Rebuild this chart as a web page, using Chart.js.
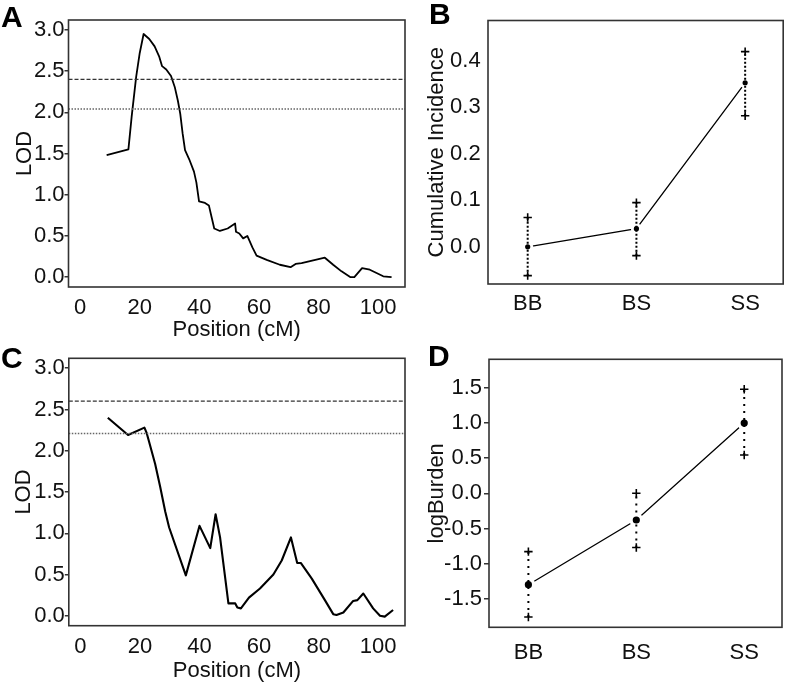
<!DOCTYPE html>
<html><head><meta charset="utf-8">
<script src="https://cdn.jsdelivr.net/npm/chart.js@4.4.1/dist/chart.umd.min.js"></script>
<style>
html,body{margin:0;padding:0;background:#fff;}
body{width:789px;height:682px;position:relative;overflow:hidden;}
canvas{position:absolute;}
.lbl{position:absolute;font:bold 30px 'Liberation Sans',Arial,sans-serif;line-height:30px;color:#000;}
</style></head><body>
<canvas id="cA" width="410" height="345" style="left:0;top:0"></canvas>
<canvas id="cB" width="389" height="340" style="left:400px;top:0"></canvas>
<canvas id="cC" width="410" height="342" style="left:0;top:340px"></canvas>
<canvas id="cD" width="389" height="342" style="left:400px;top:340px"></canvas>
<div class="lbl" style="left:1px;top:2px">A</div>
<div class="lbl" style="left:429px;top:-1px">B</div>
<div class="lbl" style="left:1px;top:343px">C</div>
<div class="lbl" style="left:428px;top:341px">D</div>
<script>
// ---- data ----
const posA = [8.9,16.2,17.3,18.8,20.0,21.3,23.2,25.0,26.5,27.5,28.9,30.5,31.8,32.8,33.6,34.4,35.2,36.6,38.2,39.0,39.9,41.9,43.2,44.1,45.0,46.9,49.5,52.0,52.3,53.4,54.7,56.1,57.8,59.2,62.6,67.0,70.6,72.3,74.3,82.1,84.9,87.7,90.6,92.0,94.6,97.2,101.7,104.5];
const lodA = [1.48,1.55,1.95,2.43,2.72,2.95,2.89,2.80,2.68,2.56,2.52,2.44,2.30,2.14,1.98,1.74,1.54,1.43,1.28,1.15,0.92,0.90,0.87,0.73,0.59,0.56,0.59,0.65,0.55,0.53,0.47,0.50,0.36,0.26,0.21,0.15,0.12,0.16,0.17,0.235,0.15,0.07,0.0,0.0,0.11,0.09,0.01,0.0];
const thrA = [2.40, 2.04];
const posC = [9.2,16.0,21.5,22.2,22.9,25.1,26.8,28.5,29.8,35.4,40.0,43.6,45.4,46.9,49.7,52.0,52.7,53.9,56.6,60.3,64.8,67.6,70.7,72.8,74.0,77.7,82.1,84.9,86.0,88.3,91.6,93.0,95.0,98.3,100.6,102.2,105.0];
const lodC = [2.40,2.19,2.28,2.22,2.13,1.84,1.56,1.26,1.07,0.49,1.09,0.82,1.23,0.95,0.15,0.15,0.10,0.09,0.22,0.33,0.50,0.67,0.95,0.64,0.64,0.45,0.19,0.02,0.01,0.04,0.18,0.19,0.27,0.09,0.0,-0.01,0.07];
const thrC = [2.60, 2.21];
const genotypes = ['BB','BS','SS'];
const ciMean = [0.0, 0.039, 0.353];
const ciLow  = [-0.062, -0.019, 0.282];
const ciHigh = [0.063, 0.095, 0.420];
const burdenMean = [-1.30, -0.38, 1.00];
const burdenLow  = [-1.76, -0.77, 0.545];
const burdenHigh = [-0.83, 0.0, 1.48];
const posTicks = [0,20,40,60,80,100];
const lodTicks = [0,0.5,1,1.5,2,2.5,3];
const ciTicks = [0,0.1,0.2,0.3,0.4];
const burdenTicks = [-1.5,-1,-0.5,0,0.5,1,1.5];
const posRange = [-3.9, 109.0];
const lodRange = [-0.12, 3.12];
const catRange = [0.635, 3.35];
const ciRange = [-0.080, 0.487];
const burdenRange = [-1.906, 1.906];

const FONT = "'Liberation Sans', Arial, Helvetica, sans-serif";
Chart.defaults.font.family = FONT;
Chart.defaults.color = '#111';

const framePlugin = {id:'frame', afterDraw(chart){
  const {ctx, chartArea:a} = chart;
  ctx.save(); ctx.strokeStyle='#333'; ctx.lineWidth=1.6;
  ctx.strokeRect(a.left, a.top, a.right-a.left, a.bottom-a.top);
  ctx.restore();
}};

function lodChart(id, pos, lod, thr, g){
  const pts = pos.map((x,i)=>({x, y:lod[i]}));
  new Chart(document.getElementById(id), {
    type:'scatter',
    data:{datasets:[
      {data:[{x:posRange[0],y:thr[0]},{x:posRange[1],y:thr[0]}], showLine:true, pointRadius:0, borderColor:'#333', borderWidth:1.2, borderDash:[4,2]},
      {data:[{x:posRange[0],y:thr[1]},{x:posRange[1],y:thr[1]}], showLine:true, pointRadius:0, borderColor:'#666', borderWidth:1.5, borderDash:[1.5,1.5]},
      {data:pts, showLine:true, pointRadius:0, borderColor:'#000', borderWidth:g.lw, borderJoinStyle:'round'}
    ]},
    options:{
      responsive:false, animation:false, devicePixelRatio:1,
      layout:{padding:{left:0,right:g.right,top:g.top,bottom:0}},
      plugins:{legend:{display:false}, tooltip:{enabled:false}},
      scales:{
        x:{type:'linear', min:posRange[0], max:posRange[1],
           afterBuildTicks:s=>{s.ticks=posTicks.map(v=>({value:v}));},
           afterFit:s=>{s.height=g.xh;},
           grid:{display:false, drawTicks:false}, border:{display:false},
           ticks:{font:{size:22}, padding:g.xpad, color:'#111', callback:v=>String(v), maxRotation:0},
           title:{display:true, text:'Position (cM)', font:{size:22}, color:'#111', padding:{top:0,bottom:g.xtp}}},
        y:{type:'linear', min:lodRange[0], max:lodRange[1],
           afterBuildTicks:s=>{s.ticks=lodTicks.map(v=>({value:v}));},
           afterFit:s=>{s.width=g.yw;},
           grid:{drawOnChartArea:false, drawTicks:true, tickLength:4, color:'#333', lineWidth:1.5}, border:{display:false},
           ticks:{font:{size:22}, padding:0, color:'#111', callback:v=>v.toFixed(1)},
           title:{display:true, text:'LOD', font:{size:22}, color:'#111', padding:{top:g.ytp,bottom:0}}}
      }
    },
    plugins:[framePlugin]
  });
}

function effectChart(id, mean, low, high, yTicks, yRange, yTitle, g){
  const ds = [];
  ds.push({data:mean.map((y,i)=>({x:i+1,y})), showLine:true, pointRadius:0, borderColor:'#000', borderWidth:1.3, order:4});
  ds.push({data:mean.map((y,i)=>({x:i+1,y})), showLine:false, pointRadius:g.gap, pointBackgroundColor:'#fff', pointBorderWidth:0, pointBorderColor:'#fff', order:3});
  low.forEach((lo,i)=>{
    ds.push({data:[{x:i+1,y:lo},{x:i+1,y:high[i]}], showLine:true, borderColor:'#000', borderWidth:2, borderDash:g.dash,
      pointStyle:'cross', pointRadius:4.2, pointBorderWidth:1.6, pointBorderColor:'#000', order:2});
  });
  ds.push({data:mean.map((y,i)=>({x:i+1,y})), showLine:false, pointRadius:g.dot, pointBackgroundColor:'#000', pointBorderWidth:0, order:1});
  new Chart(document.getElementById(id), {
    type:'scatter',
    data:{datasets:ds},
    options:{
      responsive:false, animation:false, devicePixelRatio:1,
      layout:{padding:{left:0,right:g.right,top:g.top,bottom:0}},
      plugins:{legend:{display:false}, tooltip:{enabled:false}},
      scales:{
        x:{type:'linear', min:catRange[0], max:catRange[1],
           afterBuildTicks:s=>{s.ticks=genotypes.map((c,i)=>({value:i+1}));},
           afterFit:s=>{s.height=g.xh;},
           grid:{display:false, drawTicks:false}, border:{display:false},
           ticks:{font:{size:22}, padding:g.xpad, color:'#111', callback:v=>genotypes[Math.round(v)-1], maxRotation:0}},
        y:{type:'linear', min:yRange[0], max:yRange[1],
           afterBuildTicks:s=>{s.ticks=yTicks.map(v=>({value:v}));},
           afterFit:s=>{s.width=g.yw;},
           grid:{display:g.tl>0, drawOnChartArea:false, drawTicks:g.tl>0, tickLength:g.tl, color:'#333', lineWidth:1.5}, border:{display:false},
           ticks:{font:{size:22}, padding:g.ypad, color:'#111', callback:v=>v.toFixed(1)},
           title:{display:true, text:yTitle, font:{size:22}, color:'#111', padding:{top:g.ytp,bottom:0}}}
      }
    },
    plugins:[framePlugin]
  });
}

lodChart('cA', posA, lodA, thrA, {lw:1.8, right:5, top:20, xh:58, yw:68.5, xpad:7.5, xtp:1.8, ytp:12});
lodChart('cC', posC, lodC, thrC, {lw:2.1, right:5, top:18.3, xh:56.3, yw:68.8, xpad:8.5, xtp:-2, ytp:11});
effectChart('cB', ciMean, ciLow, ciHigh, ciTicks, ciRange, 'Cumulative Incidence',
  {right:3, top:19.3, xh:56, yw:88, xpad:6.5, ytp:23.5, tl:0, ypad:7.3, gap:5.5, dot:2.6, dash:[2,2]});
effectChart('cD', burdenMean, burdenLow, burdenHigh, burdenTicks, burdenRange, 'logBurden',
  {right:3, top:19.3, xh:54.7, yw:89, xpad:12.5, ytp:23.5, tl:5, ypad:2, gap:7, dot:3.6, dash:[2,5]});
</script>
</body></html>
